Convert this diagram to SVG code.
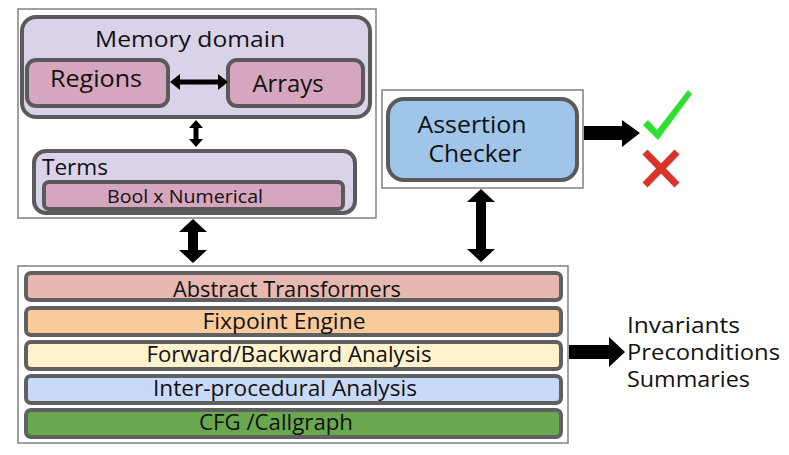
<svg xmlns="http://www.w3.org/2000/svg" width="789" height="455" viewBox="0 0 789 455">
<defs>
<style>
.outer{fill:#fff;stroke:#808080;stroke-width:1.5}
.rbox{stroke:#5a5a5a;stroke-width:4}
.lav{fill:#d9d2e9}
.pink{fill:#d5a6bd}
.bar{stroke:#606060;stroke-width:4}
.t{font-family:"Open Sans","DejaVu Sans",sans-serif;fill:#111}
.arr{fill:#000}
</style>
</defs>
<rect width="789" height="455" fill="#fff"/>
<g id="memory-container">
<rect class="outer" x="18" y="9" width="358" height="209"/>
</g>
<g id="memory-domain">
<rect class="rbox lav" x="22" y="17" width="348" height="100" rx="14"/>
<text class="t" x="190" y="47" font-size="22" text-anchor="middle" textLength="190" lengthAdjust="spacingAndGlyphs">Memory domain</text>
</g>
<g id="regions">
<rect class="rbox pink" x="27" y="60" width="141" height="46" rx="9"/>
<text class="t" x="96" y="87" font-size="24" text-anchor="middle" textLength="92" lengthAdjust="spacingAndGlyphs">Regions</text>
</g>
<g id="arrays">
<rect class="rbox pink" x="228" y="60" width="135" height="46" rx="9"/>
<text class="t" x="288" y="92" font-size="24" text-anchor="middle" textLength="71" lengthAdjust="spacingAndGlyphs">Arrays</text>
</g>
<g id="terms">
<rect class="rbox lav" x="34" y="151" width="321" height="62" rx="12"/>
<text class="t" x="42" y="175" font-size="21" textLength="66" lengthAdjust="spacingAndGlyphs">Terms</text>
</g>
<g id="bool-numerical">
<rect class="rbox pink" x="44" y="182" width="299" height="27" rx="5"/>
<text class="t" x="185" y="203" font-size="19" text-anchor="middle" textLength="156" lengthAdjust="spacingAndGlyphs">Bool x Numerical</text>
</g>
<g id="assertion-container">
<rect class="outer" x="382" y="90" width="201" height="98"/>
</g>
<g id="assertion-checker">
<rect class="rbox" fill="#9fc5e8" x="388" y="99" width="189" height="81" rx="16"/>
<text class="t" x="472" y="133" font-size="23" text-anchor="middle" textLength="109" lengthAdjust="spacingAndGlyphs">Assertion</text>
<text class="t" x="475" y="162" font-size="23" text-anchor="middle" textLength="93" lengthAdjust="spacingAndGlyphs">Checker</text>
</g>
<g id="verdict">
<polygon fill="#2ee02e" points="643,125 648,120 657,130 688,90 692,94 658,140"/>
<g stroke="#d9342b" stroke-width="7" stroke-linecap="butt">
<line x1="645" y1="152" x2="677" y2="185"/>
<line x1="677" y1="152" x2="645" y2="185"/>
</g>
</g>
<g id="engine-container">
<rect class="outer" x="18" y="266" width="550" height="177"/>
</g>
<g id="abstract-transformers">
<rect class="bar" fill="#e6b8af" x="26" y="273" width="535" height="27" rx="5"/>
<text class="t" x="287" y="297" font-size="21" text-anchor="middle" textLength="228" lengthAdjust="spacingAndGlyphs">Abstract Transformers</text>
</g>
<g id="fixpoint-engine">
<rect class="bar" fill="#f9cb9c" x="26" y="308" width="535" height="27" rx="5"/>
<text class="t" x="284" y="329" font-size="21" text-anchor="middle" textLength="163" lengthAdjust="spacingAndGlyphs">Fixpoint Engine</text>
</g>
<g id="forward-backward">
<rect class="bar" fill="#fff2cc" x="26" y="342" width="535" height="27" rx="5"/>
<text class="t" x="289" y="362" font-size="21" text-anchor="middle" textLength="285" lengthAdjust="spacingAndGlyphs">Forward/Backward Analysis</text>
</g>
<g id="inter-procedural">
<rect class="bar" fill="#c9daf8" x="26" y="376" width="535" height="27" rx="5"/>
<text class="t" x="285" y="396" font-size="21" text-anchor="middle" textLength="264" lengthAdjust="spacingAndGlyphs">Inter-procedural Analysis</text>
</g>
<g id="cfg-callgraph">
<rect class="bar" fill="#6aa84f" x="26" y="410" width="535" height="27" rx="5"/>
<text class="t" x="276" y="430" font-size="21" text-anchor="middle" textLength="154" lengthAdjust="spacingAndGlyphs">CFG /Callgraph</text>
</g>
<g id="outputs">
<text class="t" x="627" y="333" font-size="21" textLength="113" lengthAdjust="spacingAndGlyphs">Invariants</text>
<text class="t" x="627" y="360" font-size="21" textLength="153" lengthAdjust="spacingAndGlyphs">Preconditions</text>
<text class="t" x="627" y="387" font-size="21" textLength="123" lengthAdjust="spacingAndGlyphs">Summaries</text>
</g>
<g id="connectors">
<polygon class="arr" points="170,82 180,74 180,79.5 218,79.5 218,74 228,82 218,90 218,84.5 180,84.5 180,90"/>
<polygon class="arr" points="196,120 203,128 198.5,128 198.5,139 203,139 196,147 189,139 193.5,139 193.5,128 189,128"/>
<polygon class="arr" points="193,219 207,232 198,232 198,250 207,250 193,263 179,250 188,250 188,232 179,232"/>
<polygon class="arr" points="481,189 495,202 486,202 486,249 495,249 481,262 467,249 476,249 476,202 467,202"/>
<polygon class="arr" points="584,126 622,126 622,120 640,133 622,147 622,140 584,140"/>
<polygon class="arr" points="569,345 609,345 609,337 625,352 609,367 609,359 569,359"/>
</g>
</svg>
